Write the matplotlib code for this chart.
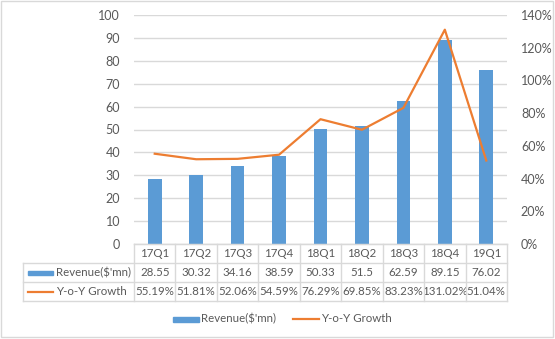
import matplotlib.pyplot as plt
import matplotlib.transforms as mtransforms
from matplotlib.lines import Line2D
from matplotlib.patches import Rectangle

# Quarterly revenue and year-on-year growth
quarters = ['17Q1', '17Q2', '17Q3', '17Q4', '18Q1', '18Q2', '18Q3', '18Q4', '19Q1']
revenue = [28.55, 30.32, 34.16, 38.59, 50.33, 51.5, 62.59, 89.15, 76.02]
growth = [55.19, 51.81, 52.06, 54.59, 76.29, 69.85, 83.23, 131.02, 51.04]
revenue_labels = ['28.55', '30.32', '34.16', '38.59', '50.33', '51.5', '62.59', '89.15', '76.02']
growth_labels = ['55.19%', '51.81%', '52.06%', '54.59%', '76.29%', '69.85%', '83.23%', '131.02%', '51.04%']

BAR = '#5B9BD5'
LINE = '#ED7D31'
GRID = '#D9D9D9'
TEXT = '#595959'
plt.rcParams['font.family'] = ['Lato', 'DejaVu Sans']
FS = 8.3

W, H = 555, 339
fig = plt.figure(figsize=(W / 100, H / 100), dpi=100)
# pixel transform, origin top-left
px = mtransforms.Affine2D().scale(1 / W, -1 / H).translate(0, 1) + fig.transFigure

left, right, top, bottom = 134, 507, 15, 244
ax = fig.add_axes([left / W, 1 - bottom / H, (right - left) / W, (bottom - top) / H])
x = list(range(len(quarters)))
ax.bar(x, revenue, width=0.33, color=BAR, zorder=2)
ax.set_xlim(-0.5, len(quarters) - 0.5)
ax.set_ylim(0, 100)
ax.set_yticks(range(0, 101, 10))
ax.yaxis.grid(True, color=GRID, lw=1)
ax.set_axisbelow(True)
ax.set_xticks([])
for s in ['top', 'left', 'right']:
    ax.spines[s].set_visible(False)
ax.spines['bottom'].set_color(GRID)
ax.tick_params(axis='y', length=0, labelsize=FS + 0.7, labelcolor=TEXT, pad=10)

ax2 = ax.twinx()
ax2.plot(x, growth, color=LINE, lw=1.6, zorder=3)
ax2.set_ylim(0, 140)
ax2.set_yticks(range(0, 141, 20))
ax2.set_yticklabels([f'{v}%' for v in range(0, 141, 20)])
for s in ax2.spines.values():
    s.set_visible(False)
ax2.tick_params(axis='y', length=0, labelsize=FS + 0.7, labelcolor=TEXT, pad=10)

# data table under the plot
rows = [244, 263, 282, 301]
tleft = 23
colw = (right - left) / len(quarters)
for i, yy in enumerate(rows):
    x0 = left if i == 0 else tleft
    fig.add_artist(Line2D([x0, right], [yy, yy], color=GRID, lw=1, transform=px))
for k in range(len(quarters) + 1):
    xx = left + k * colw
    fig.add_artist(Line2D([xx, xx], [rows[0], rows[-1]], color=GRID, lw=1, transform=px))
fig.add_artist(Line2D([tleft, tleft], [rows[1], rows[-1]], color=GRID, lw=1, transform=px))

bt = mtransforms.blended_transform_factory(ax.transData, px)
for i in x:
    ax.text(i, (rows[0] + rows[1]) / 2, quarters[i], transform=bt, ha='center', va='center',
            fontsize=FS, color=TEXT, clip_on=False)
    ax.text(i, (rows[1] + rows[2]) / 2, revenue_labels[i], transform=bt, ha='center', va='center',
            fontsize=FS, color=TEXT, clip_on=False)
    ax.text(i, (rows[2] + rows[3]) / 2, growth_labels[i], transform=bt, ha='center', va='center',
            fontsize=FS, color=TEXT, clip_on=False)

# legend keys inside table
y1 = (rows[1] + rows[2]) / 2
y2 = (rows[2] + rows[3]) / 2
fig.add_artist(Rectangle((28, y1 - 2), 25, 4, color=BAR, transform=px))
fig.text(56, y1, "Revenue($'mn)", transform=px, ha='left', va='center', fontsize=FS, color=TEXT)
fig.add_artist(Line2D([28, 53], [y2, y2], color=LINE, lw=1.6, transform=px))
fig.text(56, y2, 'Y-o-Y Growth', transform=px, ha='left', va='center', fontsize=FS, color=TEXT)

# bottom legend
ly = 319
fig.add_artist(Rectangle((173, ly - 2.5), 26, 5, color=BAR, transform=px))
fig.text(201, ly, "Revenue($'mn)", transform=px, ha='left', va='center', fontsize=FS, color=TEXT)
fig.add_artist(Line2D([293, 319], [ly, ly], color=LINE, lw=1.6, transform=px))
fig.text(321, ly, 'Y-o-Y Growth', transform=px, ha='left', va='center', fontsize=FS, color=TEXT)

# outer border
fig.add_artist(Rectangle((1, 1), W - 3, H - 3, fill=False, edgecolor=GRID, lw=1, transform=px))

fig.savefig('out.png', dpi=100)
